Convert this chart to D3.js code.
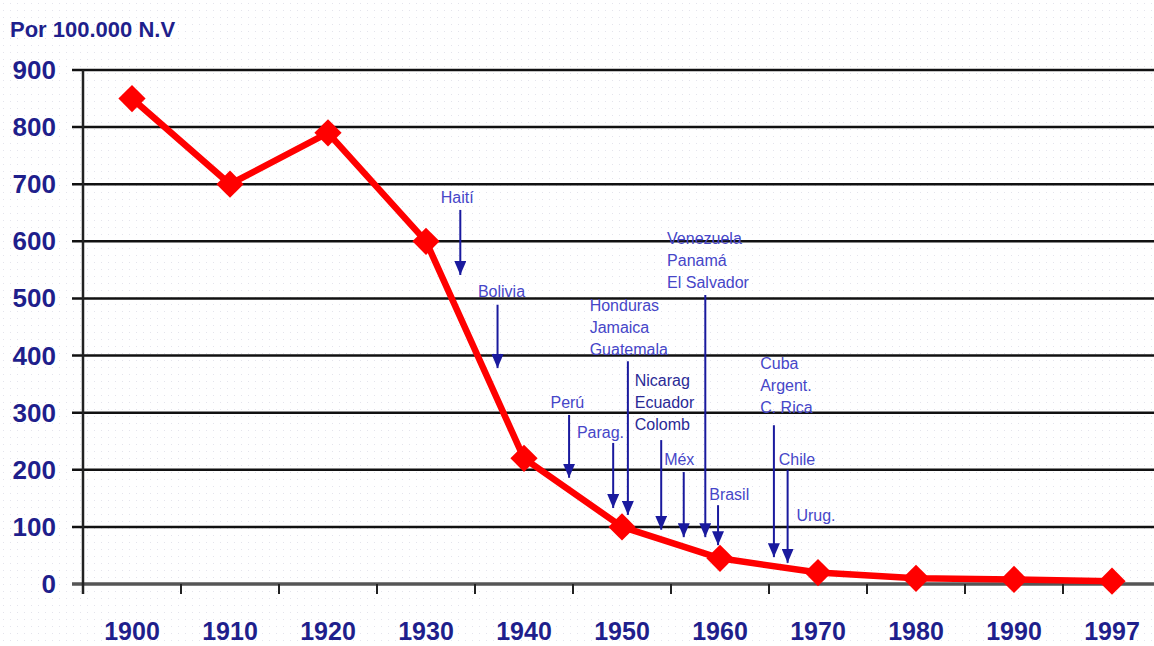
<!DOCTYPE html>
<html>
<head>
<meta charset="utf-8">
<script src="https://cdn.jsdelivr.net/npm/d3@7"></script>
<style>
  body { margin: 0; background: #fff; }
  svg { display: block; font-family: Arial, "Liberation Sans", sans-serif; }
</style>
</head>
<body>
<svg id="chart" width="1154" height="646"></svg>
<script>
// Mortalidad materna, por 100.000 nacidos vivos
const years = ["1900", "1910", "1920", "1930", "1940", "1950", "1960", "1970", "1980", "1990", "1997"];
const rates = [850, 700, 790, 600, 220, 100, 45, 20, 10, 8, 5];
const yTicks = [0, 100, 200, 300, 400, 500, 600, 700, 800, 900];

// country annotations: text block (year of left edge, value of first baseline)
const noteLines = [
  ["Haití"], ["Bolivia"], ["Perú"], ["Parag."], ["Honduras", "Jamaica", "Guatemala"],
  ["Nicarag", "Ecuador", "Colomb"], ["Méx"], ["Venezuela", "Panamá", "El Salvador"],
  ["Brasil"], ["Cuba", "Argent.", "C. Rica"], ["Chile"], ["Urug."]
];
const noteYear = [1931.5, 1935.3, 1942.7, 1945.4, 1946.7, 1951.3, 1954.3, 1954.6, 1958.9, 1964.1, 1966.0, 1967.8];
const noteValue = [667, 502, 308, 256, 478, 347, 208, 595, 147, 376, 208, 110];

// arrows: year, start value, end value
const arrowYear = [1933.5, 1937.3, 1944.6, 1949.1, 1950.6, 1954.0, 1956.3, 1958.5, 1959.8, 1965.5, 1966.9];
const arrowFrom = [655, 489, 296, 247, 390, 252, 196, 506, 138, 278, 200];
const arrowTo = [541, 378, 186, 133, 121, 95, 82, 82, 68, 47, 37];

const svg = d3.select("#chart");
const mLeft = 83, mTop = 70, mBottom = 584;

const x = d3.scaleBand().domain(years).range([mLeft, mLeft + 98 * years.length]).padding(0);
const y = d3.scaleLinear().domain([0, 900]).range([mBottom, mTop]);
const cx = (d) => x(d) + x.bandwidth() / 2;
const xYear = d3.scaleLinear().domain([1900, 1990]).range([cx("1900"), cx("1990")]);

const navy = "#1f1f8c";

// faint dotted background
const defs = svg.append("defs");
const pat = defs.append("pattern")
  .attr("id", "dots").attr("width", 7).attr("height", 7)
  .attr("patternUnits", "userSpaceOnUse");
pat.append("rect").attr("x", 3).attr("y", 3).attr("width", 1).attr("height", 1).attr("fill", "#e4e4ec");
svg.append("rect").attr("width", 1154).attr("height", 646).attr("fill", "url(#dots)");

// gridlines
svg.append("g")
  .selectAll("line")
  .data(yTicks)
  .join("line")
  .attr("x1", mLeft - 11)
  .attr("x2", 1154)
  .attr("y1", (d) => y(d))
  .attr("y2", (d) => y(d))
  .attr("stroke", (d) => (d === 0 ? "#555" : "#111"))
  .attr("stroke-width", (d) => (d === 0 ? 3.5 : 2.5));

// vertical axis line
svg.append("line")
  .attr("x1", mLeft).attr("x2", mLeft)
  .attr("y1", y(900)).attr("y2", mBottom + 10)
  .attr("stroke", "#222").attr("stroke-width", 2.5);

// x ticks at category boundaries
svg.append("g")
  .selectAll("line")
  .data(years.slice(1))
  .join("line")
  .attr("x1", (d) => x(d)).attr("x2", (d) => x(d))
  .attr("y1", mBottom).attr("y2", mBottom + 10)
  .attr("stroke", "#222").attr("stroke-width", 2);

// y labels
svg.append("g")
  .selectAll("text")
  .data(yTicks)
  .join("text")
  .attr("x", 56)
  .attr("y", (d) => y(d) + 9)
  .attr("text-anchor", "end")
  .attr("fill", navy)
  .style("font", "bold 26px Arial, 'Liberation Sans', sans-serif")
  .text((d) => d);

// x labels
svg.append("g")
  .selectAll("text")
  .data(years)
  .join("text")
  .attr("x", (d) => cx(d))
  .attr("y", 640)
  .attr("text-anchor", "middle")
  .attr("fill", navy)
  .style("font", "bold 25px Arial, 'Liberation Sans', sans-serif")
  .text((d) => d);

svg.append("text")
  .attr("x", 10).attr("y", 37)
  .attr("fill", navy)
  .style("font", "bold 22px Arial, 'Liberation Sans', sans-serif")
  .text("Por 100.000 N.V");

// annotation arrows
defs.append("marker")
  .attr("id", "arrow")
  .attr("viewBox", "0 -6 14 12")
  .attr("refX", 14).attr("refY", 0)
  .attr("markerUnits", "userSpaceOnUse")
  .attr("markerWidth", 14).attr("markerHeight", 12)
  .attr("orient", "auto")
  .append("path")
  .attr("d", "M0,-6L14,0L0,6Z")
  .attr("fill", "#1a1a9e");

svg.append("g")
  .selectAll("line")
  .data(arrowYear)
  .join("line")
  .attr("x1", (d) => xYear(d)).attr("x2", (d) => xYear(d))
  .attr("y1", (d, i) => y(arrowFrom[i]))
  .attr("y2", (d, i) => y(arrowTo[i]))
  .attr("stroke", "#1a1a9e").attr("stroke-width", 2)
  .attr("marker-end", "url(#arrow)");

// annotation labels
const notes = svg.append("g")
  .selectAll("text")
  .data(noteLines)
  .join("text")
  .attr("x", (d, i) => xYear(noteYear[i]))
  .attr("y", (d, i) => y(noteValue[i]))
  .attr("fill", (d, i) => (i === 5 ? "#2a2a96" : "#4646c8"))
  .style("font", "16px Arial, 'Liberation Sans', sans-serif");
notes.selectAll("tspan")
  .data((d) => d)
  .join("tspan")
  .attr("x", function () { return d3.select(this.parentNode).attr("x"); })
  .attr("dy", (d, i) => (i === 0 ? 0 : 22))
  .text((d) => d);

// red line and diamonds
const line = d3.line().x((d, i) => cx(years[i])).y((d) => y(d));
svg.append("path")
  .datum(rates)
  .attr("d", line)
  .attr("fill", "none")
  .attr("stroke", "#ff0000")
  .attr("stroke-width", 6.5)
  .attr("stroke-linejoin", "round");

svg.append("g")
  .selectAll("path")
  .data(rates)
  .join("path")
  .attr("d", d3.symbol(d3.symbolSquare, 370))
  .attr("transform", (d, i) => `translate(${cx(years[i])},${y(d)}) rotate(45)`)
  .attr("fill", "#ff0000");
</script>
</body>
</html>
